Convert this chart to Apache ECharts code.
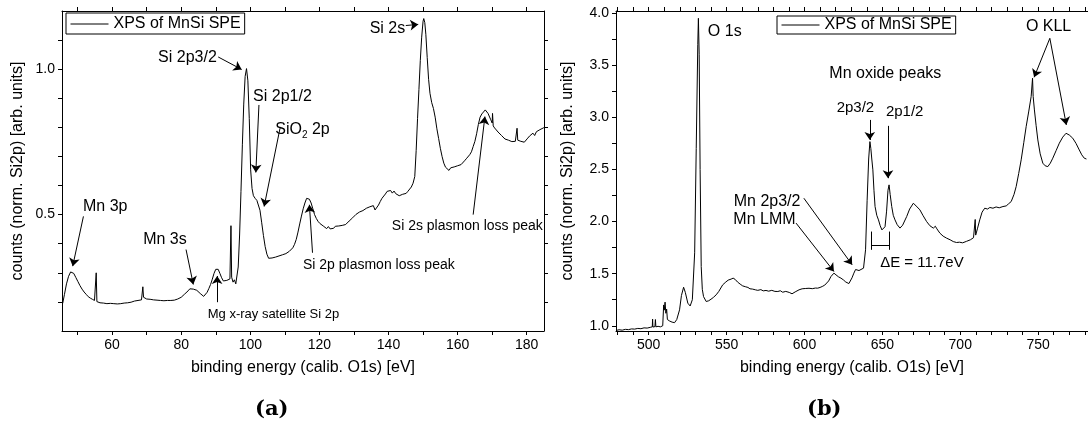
<!DOCTYPE html>
<html><head><meta charset="utf-8">
<script src="https://cdn.jsdelivr.net/npm/echarts@6/dist/echarts.min.js"></script>
<style>html,body{margin:0;padding:0;background:#fff}#c{width:1088px;height:430px}</style>
</head><body><div id="c"></div>
<script>
// ---------- data (a): Si 2p / Si 2s region ----------
const energiesA = [
45.7,46.2,46.8,47.4,48.0,48.4,48.9,49.5,50.1,50.7,
51.3,51.9,52.5,53.1,53.7,54.3,54.9,55.2,55.4,55.6,
56.0,56.5,57.0,57.5,58.0,58.5,59.0,59.5,60.0,60.5,
61.0,61.5,62.0,62.5,63.0,63.5,64.0,64.5,65.0,65.5,
66.0,66.5,67.0,67.5,68.0,68.5,68.8,68.9,69.1,69.5,
70.0,70.5,71.0,71.5,72.0,72.5,73.0,73.5,74.0,74.5,
75.0,75.5,76.0,76.5,77.0,77.5,78.0,78.5,79.0,79.5,
80.0,80.5,81.0,81.5,82.0,82.5,83.0,83.5,84.0,84.5,
85.0,85.5,86.0,86.5,87.0,87.5,88.0,88.5,89.0,89.5,
90.0,90.3,90.7,91.2,91.7,92.2,92.7,93.2,93.7,94.1,
94.4,94.6,95.0,95.4,95.8,96.1,96.5,96.9,97.3,97.7,
98.1,98.5,98.9,99.3,99.7,100.1,100.5,100.9,101.4,101.9,
102.3,102.8,103.3,103.8,104.3,104.8,105.3,105.8,106.3,106.8,
107.3,107.8,108.3,108.8,109.3,109.8,110.3,110.8,111.3,111.8,
112.3,112.8,113.3,113.8,114.3,114.8,115.3,115.8,116.3,116.7,
117.1,117.6,118.1,118.6,119.1,119.6,120.1,120.6,121.1,121.6,
122.1,122.6,123.1,123.6,124.1,124.6,125.1,125.6,126.1,126.6,
127.1,127.6,128.1,128.6,129.1,129.6,130.1,130.6,131.1,131.6,
132.1,132.6,133.1,133.6,134.1,134.6,135.1,135.6,136.1,136.6,
137.1,137.6,138.1,138.6,139.1,139.6,140.1,140.6,141.1,141.6,
142.1,142.6,143.1,143.6,144.1,144.6,145.1,145.6,146.1,146.6,
147.1,147.6,148.0,148.4,148.8,149.2,149.6,150.0,150.2,150.5,
150.8,151.2,151.6,152.0,152.5,153.0,153.5,154.0,154.5,155.0,
155.5,156.0,156.5,157.0,157.5,158.0,158.5,159.0,159.5,160.0,
160.5,161.0,161.5,162.0,162.5,163.0,163.5,164.0,164.5,165.0,
165.5,166.0,166.5,167.0,167.5,168.0,168.4,168.8,169.2,169.6,
170.0,170.1,170.3,170.7,171.2,171.7,172.2,172.7,173.2,173.7,
174.2,174.7,175.2,175.7,176.2,176.7,177.2,177.4,177.8,178.3,
178.8,179.3,179.8,180.3,180.8,181.3,181.8,182.3,182.8,183.3,
183.8,184.3,184.8,185.2];
const countsA = [
0.195,0.225,0.262,0.288,0.303,0.306,0.298,0.284,0.270,0.256,
0.244,0.234,0.226,0.218,0.213,0.209,0.205,0.204,0.300,0.201,
0.199,0.197,0.200,0.196,0.198,0.194,0.197,0.195,0.198,0.194,
0.196,0.193,0.196,0.194,0.197,0.196,0.199,0.197,0.201,0.199,
0.205,0.203,0.207,0.205,0.209,0.207,0.209,0.252,0.216,0.212,
0.210,0.212,0.209,0.211,0.207,0.209,0.206,0.208,0.205,0.207,
0.204,0.206,0.205,0.207,0.205,0.208,0.206,0.209,0.210,0.214,
0.216,0.221,0.227,0.233,0.238,0.245,0.249,0.244,0.247,0.240,
0.236,0.229,0.223,0.219,0.224,0.233,0.246,0.260,0.278,0.298,
0.312,0.317,0.312,0.298,0.283,0.272,0.267,0.274,0.270,0.279,
0.462,0.285,0.268,0.276,0.262,0.260,0.320,0.430,0.580,0.740,
0.880,0.975,1.002,0.960,0.830,0.654,0.590,0.565,0.556,0.549,
0.543,0.515,0.472,0.428,0.390,0.364,0.350,0.346,0.351,0.349,
0.354,0.352,0.358,0.356,0.362,0.361,0.366,0.370,0.374,0.380,
0.386,0.398,0.415,0.440,0.468,0.495,0.520,0.540,0.556,0.562,
0.553,0.540,0.520,0.500,0.487,0.477,0.470,0.466,0.461,0.458,
0.452,0.459,0.451,0.457,0.453,0.460,0.455,0.461,0.456,0.463,
0.459,0.466,0.470,0.478,0.476,0.489,0.494,0.501,0.498,0.509,
0.505,0.514,0.510,0.522,0.516,0.527,0.521,0.531,0.516,0.522,
0.533,0.545,0.556,0.562,0.571,0.580,0.576,0.583,0.574,0.581,
0.572,0.577,0.565,0.562,0.570,0.576,0.573,0.580,0.586,0.595,
0.608,0.631,0.720,0.830,0.930,1.030,1.110,1.165,1.174,1.160,
1.120,1.040,0.965,0.917,0.885,0.865,0.835,0.795,0.762,0.728,
0.700,0.677,0.663,0.658,0.652,0.661,0.655,0.664,0.659,0.668,
0.662,0.672,0.677,0.685,0.692,0.698,0.706,0.716,0.734,0.752,
0.778,0.810,0.835,0.846,0.852,0.860,0.862,0.848,0.842,0.826,
0.815,0.848,0.805,0.798,0.791,0.784,0.778,0.772,0.767,0.760,
0.765,0.756,0.760,0.751,0.757,0.752,0.797,0.756,0.762,0.752,
0.758,0.749,0.755,0.763,0.770,0.766,0.780,0.772,0.785,0.780,
0.792,0.788,0.798,0.802];

// ---------- data (b): O 1s / Mn 2p / O KLL region ----------
const energiesB = [
479.0,481,483,485,487,489,491,493,495,497,
499,501,502.3,502.5,502.7,504.0,504.3,504.6,506,507.5,
509.0,509.6,510.0,510.5,511.0,511.5,512.0,513.5,515,516.6,
518,519.8,521,522.4,523.5,525.1,526.6,528,529.5,530.5,
531.5,531.9,532.4,533.0,533.7,534.4,535.2,536.9,538.5,540,
541.5,543.3,545,547.5,549.5,551,552.9,554.2,555.5,557,
558.7,560.3,562,563.7,565,566.7,568.5,570,572,573.5,
575.3,577,579,581,582.9,584.5,586,588,590.2,592,
594,596.5,598.5,600.8,602.9,605,607,608.5,610,611.4,
613,613.8,615.5,617.0,618.9,620.2,621.8,623.4,625.0,626.5,
627.7,628.5,629.4,630.5,631.7,632.8,633.8,635.0,636.0,637.9,
639.2,640.2,641.2,642.0,642.6,643.2,643.9,644.6,645.3,646.4,
647.5,648.6,649.7,650.7,651.7,652.7,653.6,654.3,655.0,656.0,
657.0,658.1,659.5,661.3,663.0,665.6,667.5,669.9,671.0,672.3,
674.1,676.0,678.4,680.5,682.7,684.0,685.0,686.9,689.0,691.2,
693.5,695.5,697.6,699.5,701.5,704.0,706.5,708.5,709.3,709.6,
709.9,711.0,712.5,714.0,715.7,717.5,719.0,721.0,723.0,725.0,
727.4,729.5,731.0,732.7,734.5,735.9,737.5,739.1,740.8,742.3,
744.0,745.5,746.4,746.8,747.6,748.7,749.8,751.3,753.0,754.5,
756.2,757.8,759.4,761.5,763.6,765.8,767.9,770.0,772.2,774.3,
776.4,778.0,779.6,781.0];
const countsB = [
0.955,0.962,0.958,0.966,0.963,0.970,0.968,0.975,0.972,0.980,
0.978,0.985,0.990,1.064,0.988,0.992,1.060,0.990,0.995,0.990,
1.000,1.200,1.150,1.227,1.120,1.160,1.060,1.045,1.035,1.030,
1.060,1.153,1.290,1.370,1.320,1.217,1.190,1.250,1.700,2.700,
3.700,3.950,3.600,2.500,1.569,1.350,1.280,1.233,1.240,1.255,
1.272,1.297,1.330,1.393,1.420,1.438,1.448,1.457,1.445,1.420,
1.400,1.383,1.375,1.368,1.355,1.352,1.345,1.340,1.347,1.335,
1.339,1.332,1.340,1.330,1.329,1.336,1.322,1.330,1.320,1.307,
1.325,1.345,1.355,1.358,1.360,1.356,1.362,1.361,1.368,1.377,
1.390,1.393,1.430,1.473,1.505,1.489,1.470,1.457,1.440,1.420,
1.409,1.405,1.410,1.460,1.505,1.540,1.553,1.530,1.520,1.553,
1.729,2.200,2.600,2.767,2.700,2.600,2.496,2.300,2.144,2.060,
2.016,1.960,1.920,1.904,1.950,2.100,2.300,2.352,2.260,2.144,
2.060,2.016,1.970,1.937,1.965,2.048,2.120,2.176,2.165,2.140,
2.112,2.060,2.000,1.960,1.937,1.955,1.930,1.889,1.860,1.841,
1.825,1.808,1.799,1.802,1.796,1.810,1.825,1.845,1.856,2.020,
1.870,1.930,2.016,2.090,2.128,2.120,2.135,2.128,2.140,2.132,
2.144,2.150,2.170,2.192,2.260,2.336,2.460,2.592,2.760,2.911,
3.060,3.199,3.375,3.200,3.071,2.920,2.783,2.650,2.560,2.535,
2.527,2.560,2.608,2.680,2.752,2.810,2.847,2.830,2.800,2.750,
2.687,2.640,2.608,2.600];

// ---------- ticks ----------
const xTicksA = [50,60,70,80,90,100,110,120,130,140,150,160,170,180];
const xLabelsA = [60,80,100,120,140,160,180];
const yTicksA = [0.2,0.3,0.4,0.5,0.6,0.7,0.8,0.9,1.0,1.1];
const yLabelsA = [0.5,1.0];
const xTicksB = [480,490,500,510,520,530,540,550,560,570,580,590,600,610,620,630,640,650,660,670,680,690,700,710,720,730,740,750,760,770,780];
const xLabelsB = [500,550,600,650,700,750];
const yTicksB = [1.0,1.25,1.5,1.75,2.0,2.25,2.5,2.75,3.0,3.25,3.5,3.75,4.0];
const yLabelsB = [1.0,1.5,2.0,2.5,3.0,3.5,4.0];

const seriesName = 'XPS of MnSi SPE';
const xTitle = 'binding energy (calib. O1s) [eV]';
const yTitle = 'counts (norm. Si2p) [arb. units]';

// ---------- annotations (data coordinates) ----------
const arrowsA = [
  [[90.7,1.042],[97.5,0.999]], [[102.5,0.877],[101.6,0.645]], [[108.6,0.797],[104.0,0.528]],
  [[51.7,0.494],[48.6,0.323]], [[81.4,0.38],[83.5,0.26]], [[90.4,0.199],[90.4,0.289]],
  [[118.0,0.369],[117.1,0.534]], [[164.5,0.5],[167.9,0.837]], [[145.0,1.15],[148.6,1.154]]
];
const labelsA = [
  ['Si 2p3/2',81.8,1.039,16], ['Si 2p1/2',109.3,0.905,16], ['{n|SiO}{sub|2}{n| 2p}',115.1,0.791,16],
  ['Mn 3p',58.0,0.528,16], ['Mn 3s',75.3,0.414,16], ['Mg x-ray satellite Si 2p',106.7,0.158,13],
  ['Si 2p plasmon loss peak',137.2,0.325,14], ['Si 2s plasmon loss peak',162.8,0.459,14], ['Si 2s',139.7,1.139,16]
];
const arrowsB = [
  [[641.9,2.975],[641.9,2.783]], [[653.6,2.918],[653.6,2.416]],
  [[757.5,3.758],[747.4,3.384]], [[757.5,3.758],[768.1,2.927]],
  [[599.6,2.224],[630.6,1.585]], [[594.6,1.985],[618.9,1.521]]
];
const bracketB = [
  [[643.0,1.904],[643.0,1.729]], [[654.7,1.904],[654.7,1.729]], [[643.0,1.777],[654.7,1.777]]
];
const labelsB = [
  ['O 1s',548.8,3.822,16], ['Mn oxide peaks',651.9,3.423,16], ['2p3/2',632.7,3.09,15], ['2p1/2',664.3,3.052,15],
  ['O KLL',756.7,3.87,16], ['Mn 2p3/2',576.0,2.192,16], ['Mn LMM',574.3,2.016,16], ['\u0394E = 11.7eV',675.4,1.601,15]
];

const FONT = 'Liberation Sans, Arial, sans-serif';
const fmt1 = v => Number(v).toFixed(1);

function xAx(grid, min, max, ticks, labels, top) {
  return {
    type: 'value', gridIndex: grid, min: min, max: max, position: top ? 'top' : 'bottom',
    name: top ? '' : xTitle, nameLocation: 'middle', nameGap: 29,
    nameTextStyle: {fontSize: 16, color: '#000', fontFamily: FONT},
    axisLine: {show: true, onZero: false, lineStyle: {color: '#000', width: 1}},
    axisTick: {show: true, inside: false, length: 4, customValues: ticks, lineStyle: {color: '#000'}},
    axisLabel: {show: !top, customValues: labels, margin: 7, fontSize: 14, color: '#000', fontFamily: FONT},
    splitLine: {show: false}
  };
}
function yAx(grid, min, max, ticks, labels, right, gap) {
  return {
    type: 'value', gridIndex: grid, min: min, max: max, position: right ? 'right' : 'left',
    name: right ? '' : yTitle, nameLocation: 'middle', nameGap: gap,
    nameTextStyle: {fontSize: 16, color: '#000', fontFamily: FONT},
    axisLine: {show: true, onZero: false, lineStyle: {color: '#000', width: 1}},
    axisTick: {show: true, inside: false, length: 4, customValues: ticks, lineStyle: {color: '#000'}},
    axisLabel: {show: !right, customValues: labels, margin: 7, fontSize: 14, color: '#000', fontFamily: FONT, formatter: fmt1},
    splitLine: {show: false}
  };
}
function arrowLines(list) {
  return list.map(a => [{coord: a[0]}, {coord: a[1]}]);
}
function plainLines(list) {
  return list.map(a => [{coord: a[0], symbol: 'none'}, {coord: a[1], symbol: 'none'}]);
}
function textPoints(list) {
  return list.map(t => ({
    coord: [t[1], t[2]], symbol: 'circle', symbolSize: 1, itemStyle: {color: 'rgba(0,0,0,0)'},
    label: {show: true, position: 'inside', formatter: t[0], color: '#000', fontSize: t[3], fontFamily: FONT,
      rich: {n: {fontSize: 16, color: '#000', fontFamily: FONT, lineHeight: 20},
             sub: {fontSize: 10, color: '#000', fontFamily: FONT, lineHeight: 12, verticalAlign: 'bottom'}}}
  }));
}
function mkSeries(xi, yi, xs, ys, arrows, plain, labels) {
  return {
    type: 'line', name: seriesName, xAxisIndex: xi, yAxisIndex: yi,
    data: xs.map((x, i) => [x, ys[i]]), symbol: 'none', showSymbol: false, smooth: false,
    lineStyle: {color: '#000', width: 1}, itemStyle: {color: '#000'}, clip: true, silent: true,
    markLine: {silent: true, symbol: ['none', 'arrow'], symbolSize: 8, animation: false,
      lineStyle: {color: '#000', width: 1, type: 'solid'}, label: {show: false},
      emphasis: {disabled: true}, data: arrowLines(arrows).concat(plainLines(plain))},
    markPoint: {silent: true, animation: false, data: textPoints(labels)}
  };
}

const legendBase = {
  data: [seriesName], orient: 'horizontal', itemWidth: 38, itemHeight: 14, itemGap: 5,
  borderColor: '#000', borderWidth: 1, padding: [3, 4, 2, 4], backgroundColor: '#fff', selectedMode: false,
  itemStyle: {color: 'rgba(0,0,0,0)', opacity: 0, borderWidth: 0},
  lineStyle: {color: '#000', width: 1},
  textStyle: {fontSize: 16, color: '#000', fontFamily: FONT}
};

const chart = echarts.init(document.getElementById('c'), null, {renderer: 'canvas'});
chart.setOption({
  animation: false,
  backgroundColor: '#fff',
  textStyle: {fontFamily: FONT},
  grid: [
    {left: 62, top: 11, width: 482, height: 320, containLabel: false},
    {left: 616, top: 11, width: 474, height: 320, containLabel: false}
  ],
  xAxis: [
    xAx(0, 45.5, 185, xTicksA, xLabelsA, false),
    xAx(0, 45.5, 185, xTicksA, xLabelsA, true),
    xAx(1, 479, 782, xTicksB, xLabelsB, false),
    xAx(1, 479, 782, xTicksB, xLabelsB, true)
  ],
  yAxis: [
    yAx(0, 0.1, 1.2, yTicksA, yLabelsA, false, 36),
    yAx(0, 0.1, 1.2, yTicksA, yLabelsA, true, 0),
    yAx(1, 0.95, 4.02, yTicksB, yLabelsB, false, 40)
  ],
  legend: [
    Object.assign({}, legendBase, {left: 66, top: 13}),
    Object.assign({}, legendBase, {left: 777, top: 16, padding: [1, 4, 1, 4]})
  ],
  series: [
    mkSeries(0, 0, energiesA, countsA, arrowsA, [], labelsA),
    mkSeries(2, 2, energiesB, countsB, arrowsB, bracketB, labelsB)
  ],
  graphic: [
    {type: 'text', left: 255, top: 399, style: {text: '(a)', font: 'bold 21px "DejaVu Serif", serif', fill: '#000'}},
    {type: 'text', left: 807, top: 399, style: {text: '(b)', font: 'bold 21px "DejaVu Serif", serif', fill: '#000'}}
  ]
});
</script></body></html>
